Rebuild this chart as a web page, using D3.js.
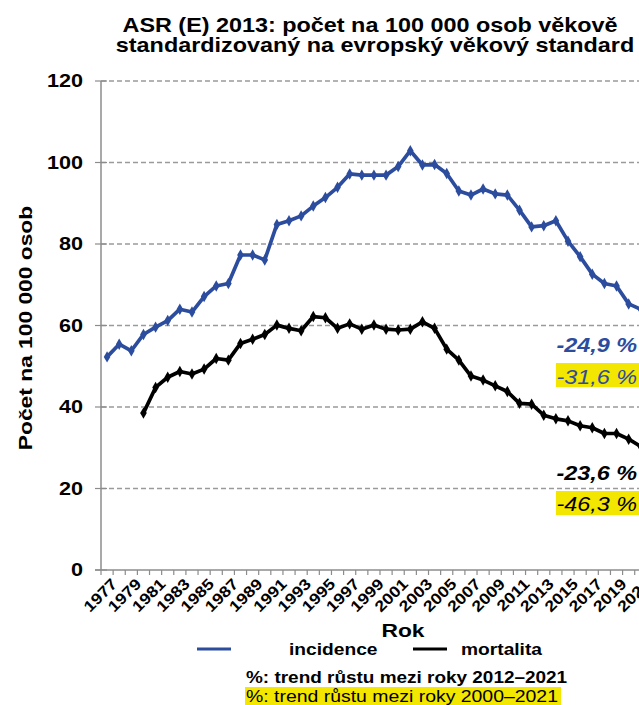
<!DOCTYPE html>
<html>
<head>
<meta charset="utf-8">
<script src="https://cdn.jsdelivr.net/npm/d3@7"></script>
<style>
html,body{margin:0;padding:0;background:#fff;overflow:hidden;}
svg{display:block;font-family:"Liberation Sans",Arial,Helvetica,sans-serif;}
</style>
</head>
<body>
<svg id="chart" width="639" height="705"></svg>
<script>
// ---- data ----
const years = d3.range(1977, 2022);
const yearLabels = years.filter(y => (y - 1977) % 2 === 0);
const incidence = [52.3,55.4,53.8,57.8,59.6,61.2,64.0,63.3,67.1,69.7,70.3,77.3,77.3,76.1,84.8,85.7,86.9,89.3,91.4,93.9,97.2,96.9,96.9,96.9,99.0,102.9,99.4,99.5,97.3,93.0,92.0,93.5,92.3,92.0,88.3,84.2,84.5,85.7,80.7,76.9,72.6,70.3,69.7,65.3,64.0];
const mortalita = [null,null,null,38.5,44.8,47.3,48.7,48.1,49.3,51.9,51.5,55.6,56.6,57.8,60.1,59.3,58.7,62.2,61.9,59.3,60.4,59.1,60.1,59.1,58.9,59.1,60.9,59.3,54.2,51.5,47.6,46.6,45.2,43.8,40.9,40.7,38.0,37.1,36.6,35.4,34.9,33.5,33.5,32.1,30.3];
const yTicks = [0,20,40,60,80,100,120];
const titleLines = ["ASR (E) 2013: počet na 100 000 osob věkově","standardizovaný na evropský věkový standard"];
const trendLabels = {incShort:"-24,9 %", incLong:"-31,6 %", morShort:"-23,6 %", morLong:"-46,3 %"};

const BLUE = "#2c4c9e", BLACK = "#000", YELLOW = "#f3e600", GRID = "#9a9a9a", AXIS = "#8c8c8c";
const SX = 1.2; // horizontal widening of glyphs as seen in the reference

const svg = d3.select("#chart");

const x = d3.scaleBand().domain(years).range([101, 101 + 45 * 12.13]);
const y = d3.scaleLinear().domain([0, 120]).range([570, 81]);
const cx = yr => x(yr) + x.bandwidth() / 2;

function wtext(g, px, py, str, o = {}) {
  const t = g.append("text")
    .attr("transform", `translate(${px},${py}) rotate(${o.rot || 0}) scale(${o.sx || SX},1)`)
    .attr("text-anchor", o.anchor || "start")
    .attr("font-size", o.size || 16)
    .attr("font-weight", o.weight || "bold")
    .attr("font-style", o.style || "normal")
    .attr("fill", o.fill || "#000")
    .text(str);
  if (o.dy) t.attr("dy", o.dy);
  return t;
}

// gridlines
svg.append("g").selectAll("line").data(yTicks.filter(v => v > 0)).join("line")
  .attr("x1", 101).attr("x2", 639)
  .attr("y1", d => y(d)).attr("y2", d => y(d))
  .attr("stroke", GRID).attr("stroke-width", 1.3).attr("stroke-dasharray", "5,3");

// y axis
const gy = svg.append("g");
gy.append("line").attr("x1", 101).attr("x2", 101).attr("y1", y(120)).attr("y2", y(0))
  .attr("stroke", AXIS).attr("stroke-width", 1.5);
gy.selectAll("line.t").data(yTicks).join("line").attr("class", "t")
  .attr("x1", 95).attr("x2", 107).attr("y1", d => y(d)).attr("y2", d => y(d))
  .attr("stroke", AXIS).attr("stroke-width", 1.2);
yTicks.forEach(v => wtext(gy, 83, y(v), String(v), {anchor: "end", size: 18, dy: "0.36em"}));

// x axis
const gx = svg.append("g");
gx.append("line").attr("x1", 95).attr("x2", 639).attr("y1", y(0)).attr("y2", y(0))
  .attr("stroke", AXIS).attr("stroke-width", 1.5);
gx.selectAll("line.t").data(years.concat([2022])).join("line").attr("class", "t")
  .attr("x1", d => d === 2022 ? x(2021) + x.bandwidth() : x(d))
  .attr("x2", d => d === 2022 ? x(2021) + x.bandwidth() : x(d))
  .attr("y1", y(0)).attr("y2", y(0) + 5)
  .attr("stroke", AXIS).attr("stroke-width", 1.2);
yearLabels.forEach(yr => wtext(gx, cx(yr) + 3, 577, String(yr), {anchor: "end", size: 15.5, rot: -45, dy: "0.72em", sx: 1.15}));

// lines
const line = d3.line().defined(d => d[1] != null).x(d => cx(d[0])).y(d => y(d[1]));
const series = [
  {vals: incidence, color: BLUE},
  {vals: mortalita, color: BLACK}
];
const diamond = d3.symbol().type(d3.symbolDiamond).size(38);
series.forEach(s => {
  const pts = years.map((yr, i) => [yr, s.vals[i]]);
  svg.append("path").datum(pts).attr("d", line)
    .attr("fill", "none").attr("stroke", s.color).attr("stroke-width", 3.7)
    .attr("stroke-linejoin", "round");
  svg.append("g").selectAll("path").data(pts.filter(d => d[1] != null)).join("path")
    .attr("d", diamond)
    .attr("transform", d => `translate(${cx(d[0])},${y(d[1])})`)
    .attr("fill", s.color);
});

// trend annotations
const ga = svg.append("g");
wtext(ga, 637, 352, trendLabels.incShort, {anchor: "end", size: 19.5, style: "italic", fill: BLUE});
ga.append("rect").attr("x", 556).attr("y", 363).attr("width", 90).attr("height", 24).attr("fill", YELLOW);
wtext(ga, 637, 384, trendLabels.incLong, {anchor: "end", size: 19.5, style: "italic", weight: "normal", fill: BLUE});
wtext(ga, 637, 480, trendLabels.morShort, {anchor: "end", size: 19.5, style: "italic", fill: BLACK});
ga.append("rect").attr("x", 556).attr("y", 491).attr("width", 90).attr("height", 24).attr("fill", YELLOW);
wtext(ga, 637, 511, trendLabels.morLong, {anchor: "end", size: 19.5, style: "italic", weight: "normal", fill: BLACK});

// title
wtext(svg, 370, 32, titleLines[0], {anchor: "middle", size: 19.5});
wtext(svg, 375, 52, titleLines[1], {anchor: "middle", size: 19.5});

// axis titles
wtext(svg, 25, 328, "Počet na 100 000 osob", {anchor: "middle", size: 19, rot: -90, dy: "0.35em"});
wtext(svg, 403, 637, "Rok", {anchor: "middle", size: 19});

// legend
const gl = svg.append("g");
gl.append("line").attr("x1", 197).attr("x2", 231).attr("y1", 649).attr("y2", 649).attr("stroke", BLUE).attr("stroke-width", 3);
wtext(gl, 289, 655, "incidence", {size: 16});
gl.append("line").attr("x1", 413).attr("x2", 447).attr("y1", 649).attr("y2", 649).attr("stroke", BLACK).attr("stroke-width", 3);
wtext(gl, 461, 655, "mortalita", {size: 16});
wtext(gl, 246, 683, "%: trend růstu mezi roky 2012–2021", {size: 15.8});
gl.append("rect").attr("x", 245).attr("y", 687).attr("width", 316).attr("height", 20).attr("fill", YELLOW);
wtext(gl, 246, 702, "%: trend růstu mezi roky 2000–2021", {size: 16.2, weight: "normal"});
</script>
</body>
</html>
